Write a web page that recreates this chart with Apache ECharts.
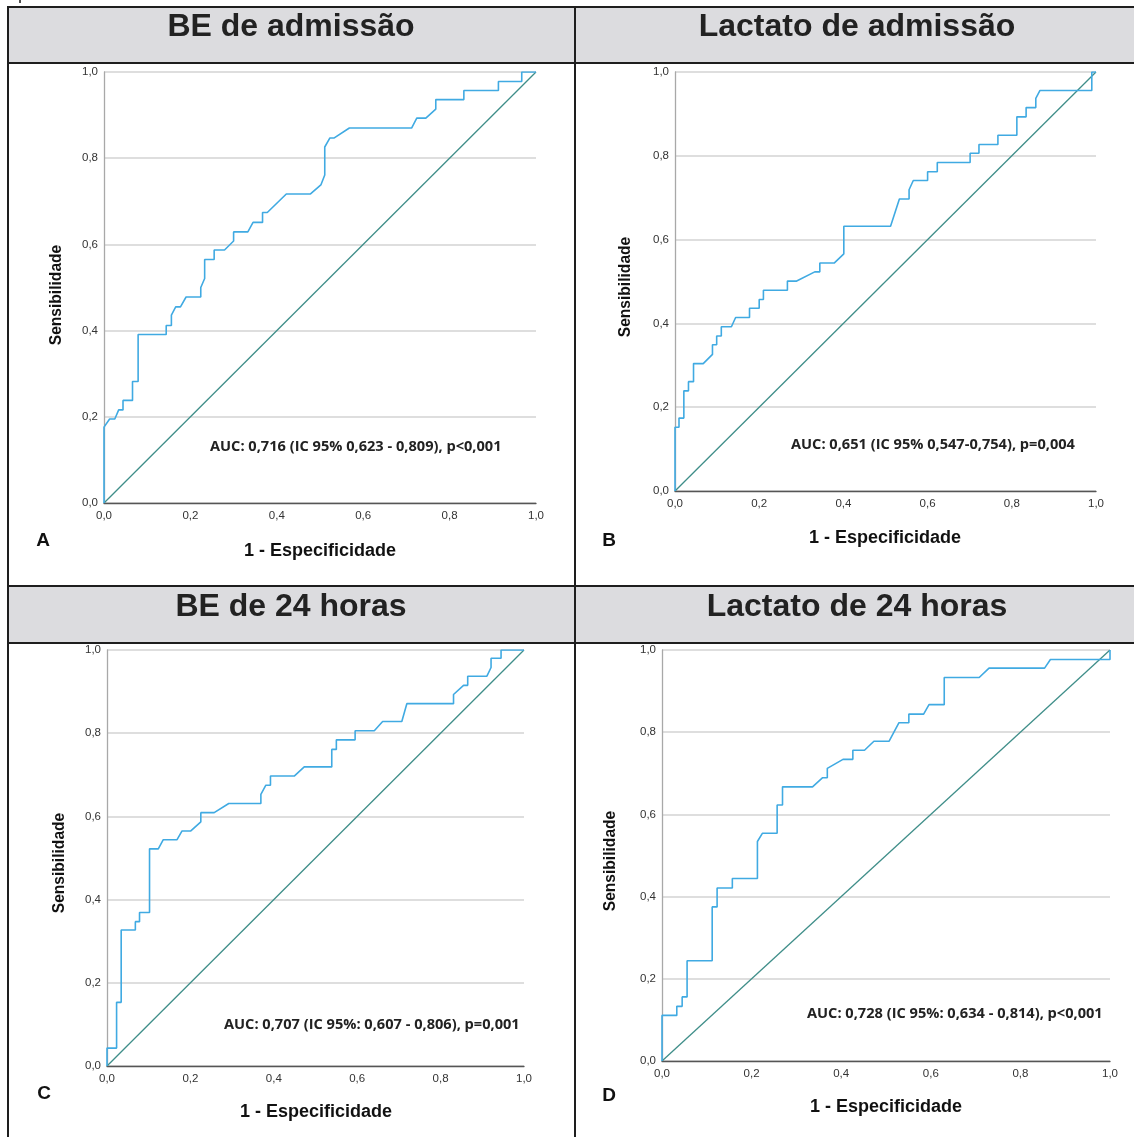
<!DOCTYPE html>
<html>
<head>
<meta charset="utf-8">
<script src="https://cdn.jsdelivr.net/npm/echarts@6/dist/echarts.min.js"></script>
<style>
html,body{margin:0;padding:0;background:#fff;}
#c{width:1134px;height:1137px;}
</style>
</head>
<body>
<div id="c"></div>
<script>
// ---- data (x = 1 - especificidade, y = sensibilidade) ----
const panelTitles = ['BE de admissão', 'Lactato de admissão', 'BE de 24 horas', 'Lactato de 24 horas'];
const panelLetters = ['A', 'B', 'C', 'D'];
const aucTexts = [
  'AUC: 0,716 (IC 95% 0,623 - 0,809), p<0,001',
  'AUC: 0,651 (IC 95% 0,547-0,754), p=0,004',
  'AUC: 0,707 (IC 95%: 0,607 - 0,806), p=0,001',
  'AUC: 0,728 (IC 95%: 0,634 - 0,814), p<0,001'
];
const tickLabels = ['0,0', '0,2', '0,4', '0,6', '0,8', '1,0'];
const referenceLine = [[0, 0], [1, 1]];

const rocBEadmissao = [
  [0,0],[0,0.176],[0.013,0.195],[0.025,0.195],[0.034,0.216],[0.044,0.216],[0.044,0.238],
  [0.066,0.238],[0.066,0.282],[0.079,0.282],[0.079,0.391],[0.144,0.391],[0.144,0.412],
  [0.156,0.412],[0.156,0.436],[0.166,0.455],[0.177,0.455],[0.190,0.478],[0.224,0.478],
  [0.224,0.500],[0.233,0.521],[0.233,0.565],[0.255,0.565],[0.255,0.587],[0.279,0.587],
  [0.300,0.608],[0.300,0.629],[0.333,0.629],[0.345,0.651],[0.367,0.651],[0.367,0.674],
  [0.378,0.674],[0.422,0.717],[0.478,0.717],[0.502,0.738],[0.511,0.761],[0.511,0.826],
  [0.523,0.847],[0.533,0.847],[0.568,0.870],[0.712,0.870],[0.724,0.893],[0.745,0.893],
  [0.768,0.914],[0.768,0.936],[0.833,0.936],[0.833,0.957],[0.913,0.957],[0.913,0.978],
  [0.967,0.978],[0.967,1.0],[1.0,1.0]
];
const rocLactatoAdmissao = [
  [0,0],[0,0.152],[0.0095,0.152],[0.0095,0.174],[0.021,0.174],[0.021,0.239],[0.032,0.239],
  [0.032,0.261],[0.044,0.261],[0.044,0.304],[0.067,0.304],[0.089,0.326],[0.089,0.349],
  [0.099,0.349],[0.099,0.370],[0.110,0.370],[0.110,0.392],[0.134,0.392],[0.144,0.414],
  [0.177,0.414],[0.177,0.436],[0.200,0.436],[0.200,0.457],[0.210,0.457],[0.210,0.479],
  [0.267,0.479],[0.267,0.501],[0.289,0.501],[0.332,0.523],[0.344,0.523],[0.344,0.544],
  [0.378,0.544],[0.401,0.566],[0.401,0.632],[0.512,0.632],[0.533,0.697],[0.556,0.697],
  [0.556,0.719],[0.566,0.741],[0.600,0.741],[0.600,0.762],[0.623,0.762],[0.623,0.784],
  [0.701,0.784],[0.701,0.806],[0.722,0.806],[0.722,0.827],[0.767,0.827],[0.767,0.849],
  [0.812,0.849],[0.812,0.893],[0.834,0.893],[0.834,0.915],[0.857,0.915],[0.857,0.937],
  [0.867,0.956],[0.990,0.956],[0.990,1.0],[1.0,1.0]
];
const rocBE24h = [
  [0,0],[0,0.043],[0.023,0.043],[0.023,0.153],[0.034,0.153],[0.034,0.327],[0.068,0.327],
  [0.068,0.347],[0.078,0.347],[0.078,0.369],[0.102,0.369],[0.102,0.522],[0.123,0.522],
  [0.135,0.544],[0.168,0.544],[0.180,0.565],[0.201,0.565],[0.225,0.587],[0.225,0.609],
  [0.257,0.609],[0.292,0.631],[0.369,0.631],[0.369,0.653],[0.381,0.675],[0.392,0.675],
  [0.392,0.697],[0.449,0.697],[0.473,0.719],[0.539,0.719],[0.539,0.761],[0.550,0.761],
  [0.550,0.784],[0.595,0.784],[0.595,0.806],[0.641,0.806],[0.661,0.828],[0.707,0.828],
  [0.719,0.871],[0.831,0.871],[0.831,0.893],[0.855,0.915],[0.865,0.915],[0.865,0.937],
  [0.911,0.937],[0.921,0.958],[0.921,0.980],[0.945,0.980],[0.945,1.0],[1.0,1.0]
];
const rocLactato24h = [
  [0,0],[0,0.111],[0.033,0.111],[0.033,0.133],[0.045,0.133],[0.045,0.156],[0.056,0.156],
  [0.056,0.244],[0.112,0.244],[0.112,0.375],[0.123,0.375],[0.123,0.421],[0.157,0.421],
  [0.157,0.444],[0.213,0.444],[0.213,0.534],[0.224,0.554],[0.257,0.554],[0.257,0.623],
  [0.269,0.623],[0.269,0.667],[0.336,0.667],[0.358,0.689],[0.369,0.689],[0.369,0.712],
  [0.404,0.734],[0.426,0.734],[0.426,0.756],[0.452,0.756],[0.473,0.778],[0.507,0.778],
  [0.529,0.823],[0.551,0.823],[0.551,0.844],[0.584,0.844],[0.596,0.867],[0.630,0.867],
  [0.630,0.933],[0.708,0.933],[0.730,0.956],[0.854,0.956],[0.867,0.977],[1.0,0.977],[1.0,1.0]
];
const rocCurves = [rocBEadmissao, rocLactatoAdmissao, rocBE24h, rocLactato24h];

// ---- layout ----
const grids = [
  {left: 104, top: 72, width: 432, height: 431},
  {left: 675, top: 72, width: 421, height: 419},
  {left: 107, top: 650, width: 417, height: 416},
  {left: 662, top: 650, width: 448, height: 411}
];
const FONT = '"Liberation Sans", Arial, sans-serif';
const fmt = v => tickLabels[Math.round(v * 5)];

const xAxes = [], yAxes = [], series = [];
grids.forEach((g, i) => {
  xAxes.push({
    type: 'value', gridIndex: i, min: 0, max: 1, interval: 0.2,
    axisLine: {show: true, lineStyle: {color: '#555', width: 1.3}},
    axisTick: {show: false}, splitLine: {show: false},
    axisLabel: {formatter: fmt, fontSize: 11.5, color: '#333', fontFamily: FONT, margin: 7}
  });
  yAxes.push({
    type: 'value', gridIndex: i, min: 0, max: 1, interval: 0.2,
    axisLine: {show: true, lineStyle: {color: '#a8a8a8', width: 1.3}},
    axisTick: {show: false},
    splitLine: {show: true, lineStyle: {color: '#d3d3d3', width: 1.5}},
    axisLabel: {formatter: fmt, fontSize: 11.5, color: '#333', fontFamily: FONT, margin: 6}
  });
  series.push({
    type: 'line', xAxisIndex: i, yAxisIndex: i, data: referenceLine,
    showSymbol: false, silent: true, z: 3,
    lineStyle: {color: '#3f8e89', width: 1.3}
  });
  series.push({
    type: 'line', xAxisIndex: i, yAxisIndex: i, data: rocCurves[i],
    showSymbol: false, silent: true, z: 4,
    lineStyle: {color: '#40aae2', width: 1.6}
  });
});

// ---- table frame & texts ----
const graphic = [];
const BORDER = '#1e1e1e';
graphic.push({type: 'rect', shape: {x: 8, y: 7, width: 567, height: 56}, style: {fill: '#dcdcdf'}, z: 0});
graphic.push({type: 'rect', shape: {x: 575, y: 7, width: 559, height: 56}, style: {fill: '#dcdcdf'}, z: 0});
graphic.push({type: 'rect', shape: {x: 8, y: 586, width: 567, height: 57}, style: {fill: '#dcdcdf'}, z: 0});
graphic.push({type: 'rect', shape: {x: 575, y: 586, width: 559, height: 57}, style: {fill: '#dcdcdf'}, z: 0});
[7, 63, 586, 643].forEach(y => graphic.push({
  type: 'line', shape: {x1: 8, y1: y, x2: 1134, y2: y}, style: {stroke: BORDER, lineWidth: 2}, z: 10
}));
[8, 575].forEach(x => graphic.push({
  type: 'line', shape: {x1: x, y1: 6, x2: x, y2: 1137}, style: {stroke: BORDER, lineWidth: 2}, z: 10
}));
graphic.push({type: 'text', x: 8, y: 3, style: {text: 'após.', font: '18px ' + FONT, fill: '#222', align: 'left', verticalAlign: 'bottom'}});

const titlePos = [[291, 27], [857, 27], [291, 607], [857, 607]];
const letterPos = [[43, 541], [609, 541], [44, 1094], [609, 1096]];
const yTitlePos = [[57, 295], [626, 287], [60, 863], [611, 861]];
const xTitlePos = [[320, 551], [885, 538], [316, 1112], [886, 1107]];
const aucPos = [[210, 447], [791, 445], [224, 1025], [807, 1014]];
for (let i = 0; i < 4; i++) {
  graphic.push({type: 'text', x: titlePos[i][0], y: titlePos[i][1], z: 11,
    style: {text: panelTitles[i], font: 'bold 32px ' + FONT, fill: '#222', align: 'center', verticalAlign: 'middle'}});
  graphic.push({type: 'text', x: letterPos[i][0], y: letterPos[i][1], z: 11,
    style: {text: panelLetters[i], font: 'bold 19px ' + FONT, fill: '#111', align: 'center', verticalAlign: 'middle'}});
  graphic.push({type: 'text', x: yTitlePos[i][0], y: yTitlePos[i][1], rotation: Math.PI / 2, z: 11,
    style: {text: 'Sensibilidade', font: 'bold 15.6px ' + FONT, fill: '#111', align: 'center', verticalAlign: 'middle'}});
  graphic.push({type: 'text', x: xTitlePos[i][0], y: xTitlePos[i][1], z: 11,
    style: {text: '1 - Especificidade', font: 'bold 18px ' + FONT, fill: '#111', align: 'center', verticalAlign: 'middle'}});
  graphic.push({type: 'text', x: aucPos[i][0], y: aucPos[i][1], z: 11,
    style: {text: aucTexts[i], font: 'bold 14.6px "Open Sans", sans-serif', fill: '#222', align: 'left', verticalAlign: 'middle'}});
}

const chart = echarts.init(document.getElementById('c'), null, {renderer: 'canvas'});
chart.setOption({
  animation: false,
  backgroundColor: '#fff',
  grid: grids,
  xAxis: xAxes,
  yAxis: yAxes,
  series: series,
  graphic: graphic
});
</script>
</body>
</html>
